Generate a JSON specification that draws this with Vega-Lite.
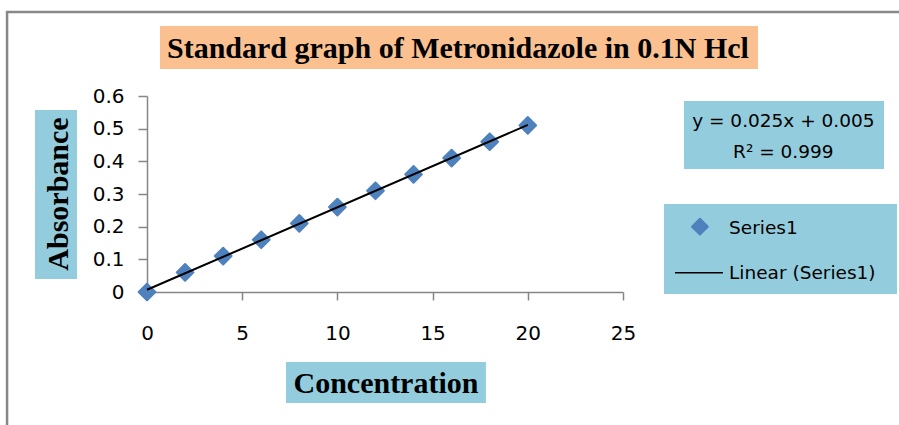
{
  "$schema": "https://vega.github.io/schema/vega-lite/v6.json",
  "autosize": "none",
  "width": 476,
  "height": 196,
  "padding": {"left": 147, "top": 96, "right": 276, "bottom": 133},
  "background": "white",
  "config": {
    "view": {"stroke": null},
    "font": "DejaVu Sans"
  },
  "resolve": {"axis": {"x": "independent", "y": "independent"}},
  "datasets": {
    "std": [
      {"conc": 0, "abs": 0},
      {"conc": 2, "abs": 0.06},
      {"conc": 4, "abs": 0.11},
      {"conc": 6, "abs": 0.16},
      {"conc": 8, "abs": 0.21},
      {"conc": 10, "abs": 0.26},
      {"conc": 12, "abs": 0.31},
      {"conc": 14, "abs": 0.36},
      {"conc": 16, "abs": 0.41},
      {"conc": 18, "abs": 0.46},
      {"conc": 20, "abs": 0.51}
    ],
    "one": [{}]
  },
  "layer": [
    {
      "data": {"name": "std"},
      "mark": {"type": "point", "shape": "diamond", "filled": true, "size": 280, "color": "#4F81BD", "opacity": 1, "stroke": "#4F81BD", "strokeWidth": 2, "strokeJoin": "round"},
      "encoding": {
        "x": {"field": "conc", "type": "quantitative", "scale": {"domain": [0, 25], "nice": false, "zero": false},
          "axis": {"values": [0, 5, 10, 15, 20, 25], "title": null, "grid": false, "domainColor": "#868686", "domainWidth": 1.5, "tickColor": "#868686", "tickWidth": 1.5, "tickSize": 8, "labelPadding": 23, "labelFontSize": 20, "labelColor": "black", "labelFont": "DejaVu Sans", "labelFlush": false, "labelOverlap": false}},
        "y": {"field": "abs", "type": "quantitative", "scale": {"domain": [0, 0.6], "nice": false, "zero": false},
          "axis": {"values": [0, 0.1, 0.2, 0.3, 0.4, 0.5, 0.6], "format": ".1~f", "title": null, "grid": false, "domainColor": "#868686", "domainWidth": 1.5, "tickColor": "#868686", "tickWidth": 1.5, "tickSize": 9, "labelPadding": 14, "labelFontSize": 20, "labelColor": "black", "labelFont": "DejaVu Sans", "labelFlush": false, "labelOverlap": false}}
      }
    },
    {
      "data": {"name": "std"},
      "transform": [{"regression": "abs", "on": "conc", "extent": [0, 20]}],
      "mark": {"type": "line", "color": "black", "strokeWidth": 2},
      "encoding": {
        "x": {"field": "conc", "type": "quantitative", "axis": null},
        "y": {"field": "abs", "type": "quantitative", "axis": null}
      }
    },
    {
      "data": {"name": "one"},
      "mark": {"type": "rect", "filled": false, "stroke": "#888888", "strokeWidth": 2.5},
      "encoding": {
        "x": {"datum": -7.35, "type": "quantitative", "axis": null},
        "x2": {"datum": 41},
        "y": {"datum": 0.857, "type": "quantitative", "axis": null},
        "y2": {"datum": -0.5}
      }
    },
    {
      "data": {"name": "one"},
      "mark": {"type": "rect", "color": "#FAC090", "opacity": 1},
      "encoding": {
        "x": {"datum": 0.683, "type": "quantitative", "axis": null},
        "x2": {"datum": 32.09},
        "y": {"datum": 0.8143, "type": "quantitative", "axis": null},
        "y2": {"datum": 0.6826}
      }
    },
    {
      "data": {"name": "one"},
      "mark": {"type": "text", "text": "Standard graph of Metronidazole in 0.1N Hcl", "font": "Liberation Serif", "fontWeight": "bold", "fontSize": 30, "align": "center", "baseline": "alphabetic", "color": "black"},
      "encoding": {
        "x": {"datum": 16.33, "type": "quantitative", "axis": null},
        "y": {"datum": 0.7163, "type": "quantitative", "axis": null}
      }
    },
    {
      "data": {"name": "one"},
      "mark": {"type": "rect", "color": "#93CDDD", "opacity": 1},
      "encoding": {
        "x": {"datum": -5.882, "type": "quantitative", "axis": null},
        "x2": {"datum": -3.676},
        "y": {"datum": 0.5571, "type": "quantitative", "axis": null},
        "y2": {"datum": 0.0398}
      }
    },
    {
      "data": {"name": "one"},
      "mark": {"type": "text", "text": "Absorbance", "font": "Liberation Serif", "fontWeight": "bold", "fontSize": 30, "align": "center", "baseline": "alphabetic", "angle": 270, "color": "black"},
      "encoding": {
        "x": {"datum": -4.149, "type": "quantitative", "axis": null},
        "y": {"datum": 0.30, "type": "quantitative", "axis": null}
      }
    },
    {
      "data": {"name": "one"},
      "mark": {"type": "rect", "color": "#93CDDD", "opacity": 1},
      "encoding": {
        "x": {"datum": 7.30, "type": "quantitative", "axis": null},
        "x2": {"datum": 17.80},
        "y": {"datum": -0.2143, "type": "quantitative", "axis": null},
        "y2": {"datum": -0.3398}
      }
    },
    {
      "data": {"name": "one"},
      "mark": {"type": "text", "text": "Concentration", "font": "Liberation Serif", "fontWeight": "bold", "fontSize": 30, "align": "center", "baseline": "alphabetic", "color": "black"},
      "encoding": {
        "x": {"datum": 12.55, "type": "quantitative", "axis": null},
        "y": {"datum": -0.3092, "type": "quantitative", "axis": null}
      }
    },
    {
      "data": {"name": "one"},
      "mark": {"type": "rect", "color": "#93CDDD", "opacity": 1},
      "encoding": {
        "x": {"datum": 28.20, "type": "quantitative", "axis": null},
        "x2": {"datum": 38.71},
        "y": {"datum": 0.5847, "type": "quantitative", "axis": null},
        "y2": {"datum": 0.3765}
      }
    },
    {
      "data": {"name": "one"},
      "mark": {"type": "text", "text": "y = 0.025x + 0.005", "fontSize": 18.5, "align": "center", "baseline": "alphabetic", "color": "black"},
      "encoding": {
        "x": {"datum": 33.42, "type": "quantitative", "axis": null},
        "y": {"datum": 0.5042, "type": "quantitative", "axis": null}
      }
    },
    {
      "data": {"name": "one"},
      "mark": {"type": "text", "text": "R² = 0.999", "fontSize": 18.5, "align": "center", "baseline": "alphabetic", "color": "black"},
      "encoding": {
        "x": {"datum": 33.42, "type": "quantitative", "axis": null},
        "y": {"datum": 0.4093, "type": "quantitative", "axis": null}
      }
    },
    {
      "data": {"name": "one"},
      "mark": {"type": "rect", "color": "#93CDDD", "opacity": 1},
      "encoding": {
        "x": {"datum": 27.15, "type": "quantitative", "axis": null},
        "x2": {"datum": 39.39},
        "y": {"datum": 0.2694, "type": "quantitative", "axis": null},
        "y2": {"datum": -0.0061}
      }
    },
    {
      "data": {"name": "one"},
      "mark": {"type": "point", "shape": "diamond", "filled": true, "size": 250, "color": "#4F81BD", "opacity": 1, "stroke": "#4F81BD", "strokeWidth": 2, "strokeJoin": "round"},
      "encoding": {
        "x": {"datum": 29.04, "type": "quantitative", "axis": null},
        "y": {"datum": 0.1999, "type": "quantitative", "axis": null}
      }
    },
    {
      "data": {"name": "one"},
      "mark": {"type": "rule", "color": "black", "strokeWidth": 1.5},
      "encoding": {
        "x": {"datum": 27.73, "type": "quantitative", "axis": null},
        "x2": {"datum": 30.25},
        "y": {"datum": 0.0591, "type": "quantitative", "axis": null}
      }
    },
    {
      "data": {"name": "one"},
      "mark": {"type": "text", "text": "Series1", "fontSize": 18.5, "align": "left", "baseline": "alphabetic", "color": "black"},
      "encoding": {
        "x": {"datum": 30.57, "type": "quantitative", "axis": null},
        "y": {"datum": 0.1776, "type": "quantitative", "axis": null}
      }
    },
    {
      "data": {"name": "one"},
      "mark": {"type": "text", "text": "Linear (Series1)", "fontSize": 18.5, "align": "left", "baseline": "alphabetic", "color": "black"},
      "encoding": {
        "x": {"datum": 30.57, "type": "quantitative", "axis": null},
        "y": {"datum": 0.0389, "type": "quantitative", "axis": null}
      }
    }
  ]
}
